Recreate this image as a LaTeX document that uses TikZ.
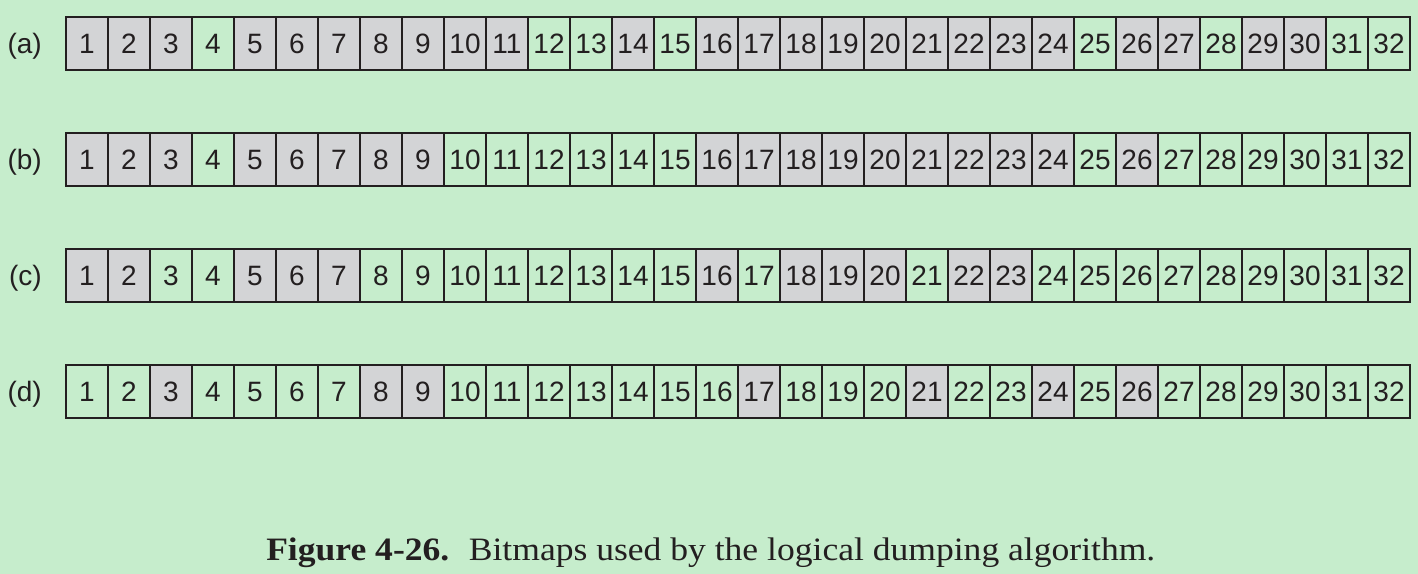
\documentclass[tikz,border=0pt]{standalone}
\usepackage{fontspec}
\setmainfont{Liberation Sans}
\newfontfamily\capfont{Liberation Serif}
\definecolor{bggreen}{RGB}{198,237,204}
\definecolor{cellgray}{RGB}{211,212,214}
\definecolor{ink}{RGB}{35,31,32}
\makeatletter
\newcommand\pickfill[2]{\edef\pf@tmp{\noexpand\in@{,#1,}{,#2,}}\pf@tmp
  \ifin@\def\fc{cellgray}\else\def\fc{bggreen}\fi}
\makeatother
\begin{document}
\begin{tikzpicture}[x=0.75pt,y=-0.75pt,
  cell/.style={draw=ink, line width=1.8pt, minimum width=31.5pt, minimum height=39.75pt,
    text height=15pt, text depth=0pt,
    inner sep=0pt, outer sep=0pt, anchor=north west, text=ink, font=\fontsize{21}{21}\selectfont},
  rowlabel/.style={text=ink, inner sep=0pt, font=\fontsize{21}{21}\selectfont, anchor=base east},
  frame/.style={draw=ink, line width=2.2pt}]
\fill[bggreen] (0,0) rectangle (1418,574);
\useasboundingbox (0,0) rectangle (1418,574);
\foreach \r/\top/\grays in {
  a/17/{1,2,3,5,6,7,8,9,10,11,14,16,17,18,19,20,21,22,23,24,26,27,29,30},
  b/133/{1,2,3,5,6,7,8,9,16,17,18,19,20,21,22,23,24,26},
  c/249/{1,2,5,6,7,16,18,19,20,22,23},
  d/365/{3,8,9,17,21,24,26}}{
  \foreach \i in {1,...,32}{
    \pickfill{\i}{\grays}
    \node[cell, fill=\fc] (\r\i) at (24+42*\i, \top) {\i};
  }
  \draw[frame] (\r1.north west) rectangle (\r32.south east);
  \node[rowlabel] (l\r) at ([xshift=-18pt]\r1.base west) {(\r)};
}
\node[anchor=base west, inner sep=0pt, text=ink] (cap) at (266,560)
  {\resizebox{666.75pt}{17pt}{\capfont\fontsize{24}{24}\selectfont\textbf{Figure 4-26.}\hspace{0.55em}Bitmaps used by the logical dumping algorithm.}};
\end{tikzpicture}
\end{document}
